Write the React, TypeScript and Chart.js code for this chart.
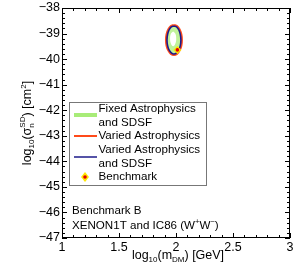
import React, { useEffect, useRef } from "react";
import { Chart, registerables } from "chart.js";

Chart.register(...registerables);

// ---- data ----
const xTicks = [1, 1.5, 2, 2.5, 3];
const xTickLabels = ["1", "1.5", "2", "2.5", "3"];
const yTicks = [-38, -39, -40, -41, -42, -43, -44, -45, -46, -47];
const yTickLabels = ["\u221238", "\u221239", "\u221240", "\u221241", "\u221242", "\u221243", "\u221244", "\u221245", "\u221246", "\u221247"];

// Varied Astrophysics (red) contour
const redX = [1.982, 2.009, 2.031, 2.047, 2.052, 2.047, 2.031, 2.009, 1.982, 1.955, 1.933, 1.917, 1.912, 1.917, 1.933, 1.955, 1.982];
const redY = [-38.66, -38.705, -38.833, -39.024, -39.25, -39.476, -39.667, -39.795, -39.84, -39.795, -39.667, -39.476, -39.25, -39.024, -38.833, -38.705, -38.66];
// Varied Astrophysics and SDSF (navy) contour
const navyX = [1.982, 2.005, 2.025, 2.038, 2.043, 2.038, 2.025, 2.005, 1.982, 1.959, 1.939, 1.926, 1.921, 1.926, 1.939, 1.959, 1.982];
const navyY = [-38.7, -38.742, -38.861, -39.04, -39.25, -39.46, -39.639, -39.758, -39.8, -39.758, -39.639, -39.46, -39.25, -39.04, -38.861, -38.742, -38.7];
// Fixed Astrophysics and SDSF (green) region
const greenX = [1.982, 2.004, 2.022, 2.035, 2.039, 2.035, 2.022, 2.004, 1.982, 1.96, 1.942, 1.929, 1.925, 1.929, 1.942, 1.96, 1.982];
const greenY = [-38.72, -38.76, -38.875, -39.047, -39.25, -39.453, -39.625, -39.74, -39.78, -39.74, -39.625, -39.453, -39.25, -39.047, -38.875, -38.76, -38.72];
// inner (white) hole
const holeX = [1.975, 1.994, 2.002, 1.994, 1.975, 1.956, 1.948, 1.956, 1.975];
const holeY = [-38.92, -39.0, -39.2, -39.4, -39.5, -39.4, -39.2, -39.0, -38.92];
// best-fit (yellow) patch
const bestX = [2.012, 2.026, 2.032, 2.026, 2.012, 1.998, 1.992, 1.998, 2.012];
const bestY = [-39.52, -39.55, -39.62, -39.69, -39.72, -39.69, -39.62, -39.55, -39.52];
// Benchmark
const benchX = [2.012];
const benchY = [-39.64];

const legendLabels = [
  ["Fixed Astrophysics", "and SDSF"],
  ["Varied Astrophysics"],
  ["Varied Astrophysics", "and SDSF"],
  ["Benchmark"],
];
const annotation1 = "Benchmark B";

const GREEN = "#a8ec78";
const GREEN_FILL = "#bff29a";
const RED = "#ff4a1a";
const NAVY = "#1c1a8a";
const FONT = "'Liberation Sans', Arial, Helvetica, sans-serif";

const pts = (xs: number[], ys: number[]) => xs.map((x, i) => ({ x, y: ys[i] }));

type Part = { t: string; size: number; dy?: number; noAdvance?: boolean };

function richWidth(ctx: CanvasRenderingContext2D, parts: Part[]) {
  let w = 0;
  for (const p of parts) {
    ctx.font = `${p.size}px ${FONT}`;
    if (!p.noAdvance) w += ctx.measureText(p.t).width;
  }
  return w;
}

function drawRich(ctx: CanvasRenderingContext2D, parts: Part[], x: number, y: number, align: "left" | "center") {
  const w = richWidth(ctx, parts);
  let cx = align === "center" ? x - w / 2 : x;
  ctx.textAlign = "left";
  ctx.textBaseline = "alphabetic";
  for (const p of parts) {
    ctx.font = `${p.size}px ${FONT}`;
    ctx.fillText(p.t, cx, y + (p.dy || 0));
    if (!p.noAdvance) cx += ctx.measureText(p.t).width;
  }
}

const framePlugin = {
  id: "frame",
  afterDatasetsDraw(chart: any) {
    const ctx: CanvasRenderingContext2D = chart.ctx;
    const { left, right, top, bottom } = chart.chartArea;
    const xs = chart.scales.x;
    const ys = chart.scales.y;
    ctx.save();
    ctx.strokeStyle = "#000";
    ctx.fillStyle = "#000";
    ctx.lineWidth = 1;
    ctx.strokeRect(left + 0.5, top + 0.5, right - left - 1, bottom - top - 1);

    // x ticks (major 0.5, minor 0.1)
    ctx.beginPath();
    for (let i = 0; i <= 20; i++) {
      const v = 1 + i * 0.1;
      const px = Math.round(xs.getPixelForValue(v)) + 0.5;
      const len = i % 5 === 0 ? 5 : 3;
      ctx.moveTo(px, bottom);
      ctx.lineTo(px, bottom - len);
      ctx.moveTo(px, top);
      ctx.lineTo(px, top + len);
    }
    // y ticks (major 1, minor 0.2)
    for (let i = 0; i <= 45; i++) {
      const v = -38 - i * 0.2;
      const py = Math.round(ys.getPixelForValue(v)) + 0.5;
      const len = i % 5 === 0 ? 5 : 3;
      ctx.moveTo(left, py);
      ctx.lineTo(left + len, py);
      ctx.moveTo(right, py);
      ctx.lineTo(right - len, py);
    }
    ctx.stroke();

    // tick labels
    ctx.font = `12.5px ${FONT}`;
    ctx.textAlign = "center";
    ctx.textBaseline = "alphabetic";
    xTicks.forEach((v, i) => {
      ctx.fillText(xTickLabels[i], xs.getPixelForValue(v), bottom + 13);
    });
    ctx.textAlign = "right";
    ctx.textBaseline = "middle";
    yTicks.forEach((v, i) => {
      ctx.fillText(yTickLabels[i], left - 2, ys.getPixelForValue(v));
    });

    // x title
    drawRich(
      ctx,
      [
        { t: "log", size: 12.5 },
        { t: "10", size: 8, dy: 3 },
        { t: "(m", size: 12.5 },
        { t: "DM", size: 8, dy: 3 },
        { t: ") [GeV]", size: 12.5 },
      ],
      (left + right) / 2 + 2,
      259,
      "center"
    );

    // y title
    ctx.save();
    ctx.translate(31, 123);
    ctx.rotate(-Math.PI / 2);
    drawRich(
      ctx,
      [
        { t: "log", size: 12.5 },
        { t: "10", size: 8, dy: 3 },
        { t: "(\u03c3", size: 12.5 },
        { t: "n", size: 8, dy: 3, noAdvance: true },
        { t: "SD", size: 8, dy: -6 },
        { t: ") [cm", size: 12.5 },
        { t: "2", size: 8, dy: -5 },
        { t: "]", size: 12.5 },
      ],
      0,
      0,
      "center"
    );
    ctx.restore();

    // annotations
    ctx.fillStyle = "#000";
    ctx.font = `11.6px ${FONT}`;
    ctx.textAlign = "left";
    ctx.textBaseline = "alphabetic";
    ctx.fillText(annotation1, 72, 214);
    drawRich(
      ctx,
      [
        { t: "XENON1T and IC86 (W", size: 11.6 },
        { t: "+", size: 7.5, dy: -5 },
        { t: "W", size: 11.6 },
        { t: "\u2212", size: 7.5, dy: -5 },
        { t: ")", size: 11.6 },
      ],
      72,
      229,
      "left"
    );

    // legend
    const bx = 69.5, by = 102.5, bw = 137, bh = 83;
    ctx.fillStyle = "#fff";
    ctx.fillRect(bx, by, bw, bh);
    ctx.strokeStyle = "#777";
    ctx.lineWidth = 1;
    ctx.strokeRect(bx, by, bw, bh);
    ctx.fillStyle = "#000";
    ctx.font = `11.6px ${FONT}`;
    ctx.textBaseline = "middle";
    ctx.textAlign = "left";
    const tx = 98.5;
    const lineRows = [
      { y: 115, color: GREEN, w: 4, texts: [108.5, 122.5] },
      { y: 136, color: RED, w: 2, texts: [136] },
      { y: 157, color: NAVY, w: 1.5, texts: [150, 164] },
    ];
    lineRows.forEach((r, i) => {
      ctx.strokeStyle = r.color;
      ctx.lineWidth = r.w;
      ctx.beginPath();
      ctx.moveTo(74, r.y);
      ctx.lineTo(97, r.y);
      ctx.stroke();
      r.texts.forEach((ty, j) => ctx.fillText(legendLabels[i][j], tx, ty));
    });
    // benchmark marker in legend
    const mx = 85, my = 177;
    ctx.fillStyle = "#ffe600";
    ctx.beginPath();
    ctx.moveTo(mx, my - 5);
    ctx.lineTo(mx + 4, my);
    ctx.lineTo(mx, my + 5);
    ctx.lineTo(mx - 4, my);
    ctx.closePath();
    ctx.fill();
    ctx.fillStyle = "#e00000";
    ctx.beginPath();
    ctx.arc(mx, my, 1.8, 0, Math.PI * 2);
    ctx.fill();
    ctx.fillStyle = "#000";
    ctx.fillText(legendLabels[3][0], tx, 177);
    ctx.restore();
  },
};

export default function App() {
  const ref = useRef<HTMLCanvasElement | null>(null);
  useEffect(() => {
    if (!ref.current) return;
    const chart = new Chart(ref.current, {
      type: "scatter",
      data: {
        datasets: [
          {
            label: "green",
            data: pts(greenX, greenY),
            showLine: true,
            tension: 0.4,
            borderWidth: 0,
            borderColor: GREEN_FILL,
            backgroundColor: GREEN_FILL,
            fill: "shape",
            pointRadius: 0,
            order: 7,
          },
          {
            label: "hole",
            data: pts(holeX, holeY),
            showLine: true,
            tension: 0.4,
            borderWidth: 0,
            borderColor: "#fff",
            backgroundColor: "#fff",
            fill: "shape",
            pointRadius: 0,
            order: 6,
          },
          {
            label: "best",
            data: pts(bestX, bestY),
            showLine: true,
            tension: 0.4,
            borderWidth: 0,
            borderColor: "#f5f020",
            backgroundColor: "#f5f020",
            fill: "shape",
            pointRadius: 0,
            order: 5,
          },
          {
            label: "red",
            data: pts(redX, redY),
            showLine: true,
            tension: 0.4,
            borderWidth: 2,
            borderColor: RED,
            fill: false,
            pointRadius: 0,
            order: 4,
          },
          {
            label: "navy",
            data: pts(navyX, navyY),
            showLine: true,
            tension: 0.4,
            borderWidth: 1.6,
            borderColor: NAVY,
            fill: false,
            pointRadius: 0,
            order: 3,
          },
          {
            label: "benchY",
            data: pts(benchX, benchY),
            showLine: false,
            pointStyle: "rectRot",
            pointRadius: 4,
            pointBackgroundColor: "#ffe600",
            pointBorderWidth: 0,
            order: 2,
          },
          {
            label: "benchR",
            data: pts(benchX, benchY),
            showLine: false,
            pointStyle: "circle",
            pointRadius: 1.8,
            pointBackgroundColor: "#e00000",
            pointBorderWidth: 0,
            order: 1,
          },
        ],
      },
      options: {
        responsive: false,
        animation: false,
        events: [],
        layout: { padding: { left: 62, right: 9, top: 8, bottom: 30 } },
        plugins: { legend: { display: false }, tooltip: { enabled: false } },
        scales: {
          x: { type: "linear", min: 1, max: 3, display: false },
          y: { type: "linear", min: -47, max: -38, display: false },
        },
      },
      plugins: [framePlugin],
    });
    return () => chart.destroy();
  }, []);
  return (
    <div style={{ position: "absolute", left: 0, top: 0, width: 299, height: 268, background: "#fff" }}>
      <canvas ref={ref} width={299} height={268} style={{ display: "block" }} />
    </div>
  );
}
